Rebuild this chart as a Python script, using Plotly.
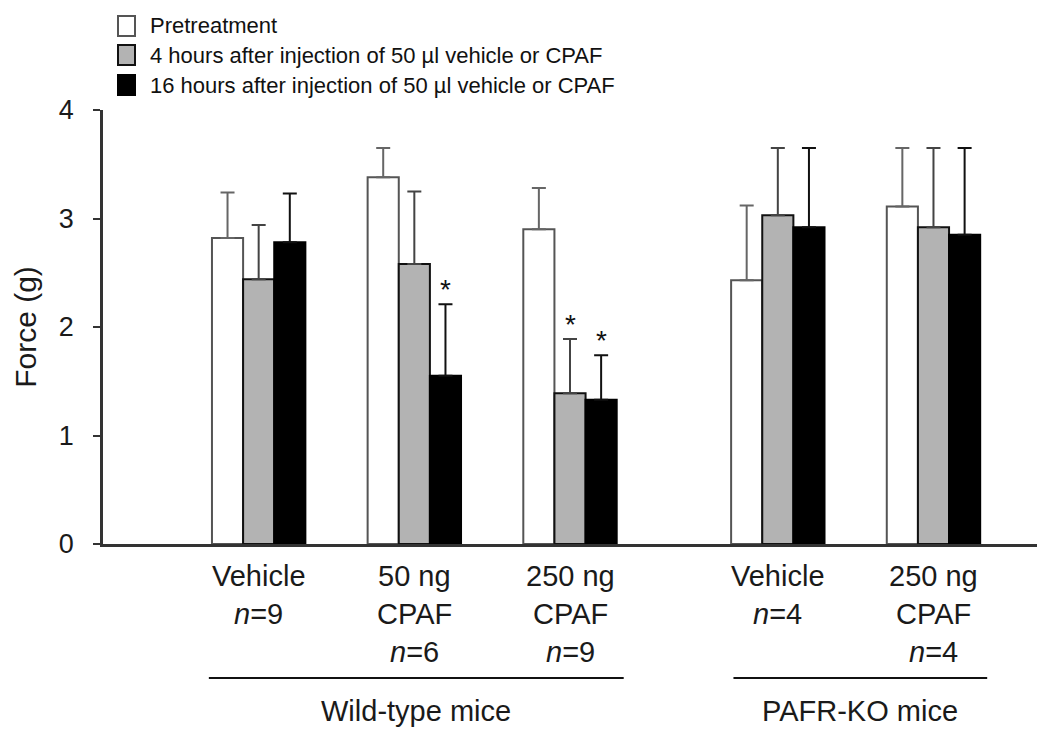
import plotly.graph_objects as go

# ---- data ----
groups = ["Vehicle", "50 ng CPAF", "250 ng CPAF", "Vehicle", "250 ng CPAF"]
group_pos = [1, 2, 3, 4.335, 5.335]
label_line1 = ["Vehicle", "50 ng", "250 ng", "Vehicle", "250 ng"]
label_line2 = ["<i>n</i>=9", "CPAF", "CPAF", "<i>n</i>=4", "CPAF"]
label_line3 = ["", "<i>n</i>=6", "<i>n</i>=9", "", "<i>n</i>=4"]

series_names = ["Pretreatment",
                "4 hours after injection of 50 µl vehicle or CPAF",
                "16 hours after injection of 50 µl vehicle or CPAF"]
pre = [2.82, 3.38, 2.90, 2.43, 3.11]
h4 = [2.44, 2.58, 1.39, 3.03, 2.92]
h16 = [2.78, 1.55, 1.33, 2.92, 2.85]
pre_err = [0.42, 0.27, 0.38, 0.69, 0.54]
h4_err = [0.50, 0.67, 0.50, 0.62, 0.73]
h16_err = [0.45, 0.66, 0.41, 0.73, 0.80]
# significance stars: (series index, group index)
stars = [(2, 1), (1, 2), (2, 2)]

y_ticks = [0, 1, 2, 3, 4]
y_title = "Force (g)"
mouse_groups = [("Wild-type mice", 0.68, 3.345), ("PAFR-KO mice", 4.05, 5.68)]

# ---- style ----
FONT = "Liberation Sans, Arial, sans-serif"
fills = ["#ffffff", "#b3b3b3", "#000000"]
outlines = ["#555555", "#111111", "#000000"]
errcols = ["#666666", "#444444", "#111111"]
offsets = [-0.2, 0.0, 0.2]

vals = [pre, h4, h16]
errs = [pre_err, h4_err, h16_err]

# page offset (body margin) in pixels
OFF = 8
W, H = 1042, 727
L, T = 103 - OFF, 110 - OFF
PLOT_W, PLOT_H = 934, 434
R = W - L - PLOT_W
B = H - T - PLOT_H

fig = go.Figure()
for i in range(3):
    fig.add_trace(go.Bar(
        x=group_pos, y=vals[i], name=series_names[i], showlegend=False,
        marker=dict(color=fills[i], line=dict(color=outlines[i], width=2)),
        error_y=dict(type="data", symmetric=False, array=errs[i],
                     arrayminus=[0] * len(errs[i]), color=errcols[i],
                     thickness=2, width=7),
    ))

annotations = []
for (si, gi) in stars:
    annotations.append(dict(
        x=group_pos[gi] + offsets[si], y=vals[si][gi] + errs[si][gi],
        xref="x", yref="y", text="*", showarrow=False, yanchor="bottom",
        yshift=-3, font=dict(size=28, color="#111", family=FONT)))

Y0 = 544  # screen pixel of y=0
for lines, ypix in [(label_line1, 576), (label_line2, 614), (label_line3, 652)]:
    for gx, t in zip(group_pos, lines):
        if t:
            annotations.append(dict(
                x=gx, y=0, xref="x", yref="paper", text=t, showarrow=False,
                yanchor="middle", yshift=-(ypix - Y0),
                font=dict(size=29, color="#1a1a1a", family=FONT)))

shapes = []
for name, x0, x1 in mouse_groups:
    shapes.append(dict(type="line", xref="x", yref="paper", x0=x0, x1=x1,
                       y0=-(678 - Y0) / PLOT_H, y1=-(678 - Y0) / PLOT_H,
                       line=dict(color="#111", width=2)))
    annotations.append(dict(
        x=(x0 + x1) / 2, y=0, xref="x", yref="paper", text=name,
        showarrow=False, yanchor="middle", yshift=-(711 - Y0),
        font=dict(size=29, color="#1a1a1a", family=FONT)))

# custom legend (boxes + text), positioned in paper coords
def px_x(p):
    return (p - 103) / PLOT_W

def px_y(p):
    return (Y0 - p) / PLOT_H

leg_rows = [26, 55, 85]
for i, yc in enumerate(leg_rows):
    shapes.append(dict(type="rect", xref="paper", yref="paper",
                       x0=px_x(118), x1=px_x(135), y0=px_y(yc + 10), y1=px_y(yc - 10),
                       fillcolor=fills[i], line=dict(color=outlines[i], width=2)))
    annotations.append(dict(
        x=px_x(148), y=px_y(yc), xref="paper", yref="paper",
        text=series_names[i], showarrow=False, xanchor="left", yanchor="middle",
        font=dict(size=22, color="#111", family=FONT)))

fig.update_layout(
    width=W, height=H,
    margin=dict(l=L, r=R, t=T, b=B),
    paper_bgcolor="white", plot_bgcolor="white",
    barmode="group", bargap=0.4, bargroupgap=0,
    showlegend=False,
    annotations=annotations, shapes=shapes,
    font=dict(family=FONT, color="#1a1a1a"),
    xaxis=dict(range=[0, 6], showgrid=False, zeroline=False, showline=True,
               linecolor="#333", linewidth=2.5, showticklabels=False, ticks=""),
    yaxis=dict(range=[0, 4], tickvals=y_ticks, showgrid=False, zeroline=False,
               showline=True, linecolor="#333", linewidth=2.5,
               ticks="outside", ticklen=7, tickwidth=2, tickcolor="#333",
               ticklabelstandoff=14,
               tickfont=dict(size=27, color="#1a1a1a", family=FONT),
               title=dict(text=y_title, standoff=14,
                          font=dict(size=30, color="#1a1a1a", family=FONT))),
)

fig.write_html("out.html")
